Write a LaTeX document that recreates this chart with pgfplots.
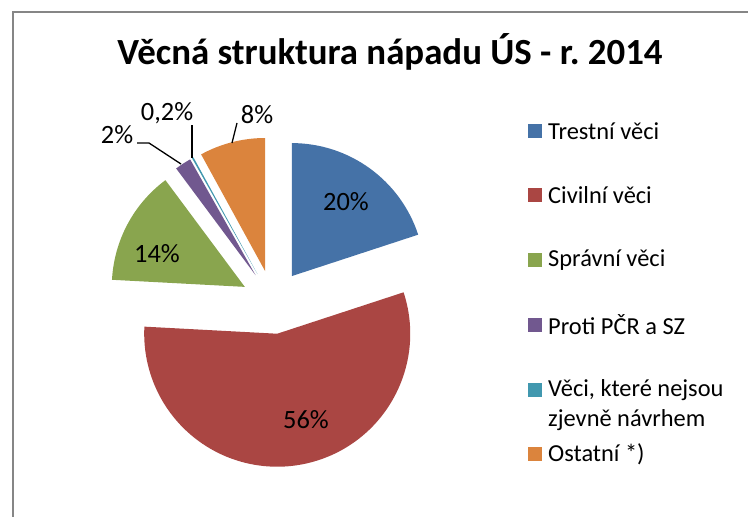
\documentclass[border=0pt]{standalone}
\usepackage{fontspec}
\setmainfont{Carlito}[Numbers=Lining]
\usepackage{pgfplots}
\usepackage{pgfplotstable}
\pgfplotsset{compat=1.18}
\frenchspacing

\definecolor{c1}{HTML}{4572A7}
\definecolor{c2}{HTML}{AA4643}
\definecolor{c3}{HTML}{89A54E}
\definecolor{c4}{HTML}{71588F}
\definecolor{c5}{HTML}{4198AF}
\definecolor{c6}{HTML}{DB843D}
\definecolor{frame}{HTML}{868686}

% share of each category (%), slice colour
\pgfplotstableread{
pct col
20  c1
56  c2
14  c3
2   c4
0.2 c5
8   c6
}\piedata

\newcommand{\lbl}{\fontsize{24.5}{29}\selectfont}
\newcommand{\pct}{\fontsize{26.5}{31}\selectfont}

\begin{document}
\begin{tikzpicture}
\begin{axis}[
  width=748bp, height=517bp, scale only axis,
  xmin=0, xmax=748, ymin=0, ymax=517,
  y dir=reverse,
  hide axis, clip=false
]
\pgfplotsextra{
  \xdef\cum{90}
  \foreach \i in {0,...,5}{
    \pgfplotstablegetelem{\i}{pct}\of\piedata \let\p\pgfplotsretval
    \pgfplotstablegetelem{\i}{col}\of\piedata \let\c\pgfplotsretval
    \pgfmathsetmacro\a{\cum}
    \pgfmathsetmacro\b{\cum - \p/100.2*360}
    \pgfmathsetmacro\m{(\a+\b)/2}
    \pgfmathsetmacro\ax{273 + 32*cos(\m)}
    \pgfmathsetmacro\ay{302 - 32*sin(\m)}
    \fill[\c] (axis cs:\ax,\ay) -- ++(\a:133bp) arc[start angle=\a, end angle=\b, radius=133bp] -- cycle;
    \xdef\cum{\b}
  }
}
% frame
\draw[frame, line width=2bp] (axis cs:13,517) -- (axis cs:13,12) -- (axis cs:748,12);
% title
\node[font=\fontsize{37}{42}\selectfont\bfseries] at (axis cs:390,52) {Věcná struktura nápadu ÚS - r. 2014};
% data labels
\node[font=\pct] at (axis cs:346,202) {20\%};
\node[font=\pct] at (axis cs:306,420) {56\%};
\node[font=\pct] at (axis cs:157,254) {14\%};
\node[font=\pct] at (axis cs:117,135) {2\%};
\node[font=\pct] at (axis cs:167,113) {0,2\%};
\node[font=\pct] at (axis cs:257,115) {8\%};
\draw[line width=1.3bp] (axis cs:232,143) -- (axis cs:237,123);
\draw[line width=1.3bp] (axis cs:192,125) -- (axis cs:192,158);
\draw[line width=1.3bp] (axis cs:137,143) -- (axis cs:149,143) -- (axis cs:181,164);
% legend
\fill[c1] (axis cs:528,124) rectangle (axis cs:542,138);
\fill[c2] (axis cs:528,188) rectangle (axis cs:542,202);
\fill[c3] (axis cs:528,253) rectangle (axis cs:542,267);
\fill[c4] (axis cs:528,318) rectangle (axis cs:542,332);
\fill[c5] (axis cs:528,383) rectangle (axis cs:542,397);
\fill[c6] (axis cs:528,447) rectangle (axis cs:542,461);
\node[font=\lbl, anchor=west, inner sep=0pt] at (axis cs:548,131) {Trestní věci};
\node[font=\lbl, anchor=west, inner sep=0pt] at (axis cs:548,195) {Civilní věci};
\node[font=\lbl, anchor=west, inner sep=0pt] at (axis cs:548,260) {Správní věci};
\node[font=\lbl, anchor=west, inner sep=0pt] at (axis cs:548,325) {Proti PČR a SZ};
\node[font=\lbl, anchor=west, inner sep=0pt] at (axis cs:548,390) {Věci, které nejsou};
\node[font=\lbl, anchor=west, inner sep=0pt] at (axis cs:548,420) {zjevně návrhem};
\node[font=\lbl, anchor=west, inner sep=0pt] at (axis cs:548,454) {Ostatní *)};
\end{axis}
\pgfresetboundingbox
\path[use as bounding box] (0,0) rectangle (748bp,517bp);
\end{tikzpicture}
\end{document}
